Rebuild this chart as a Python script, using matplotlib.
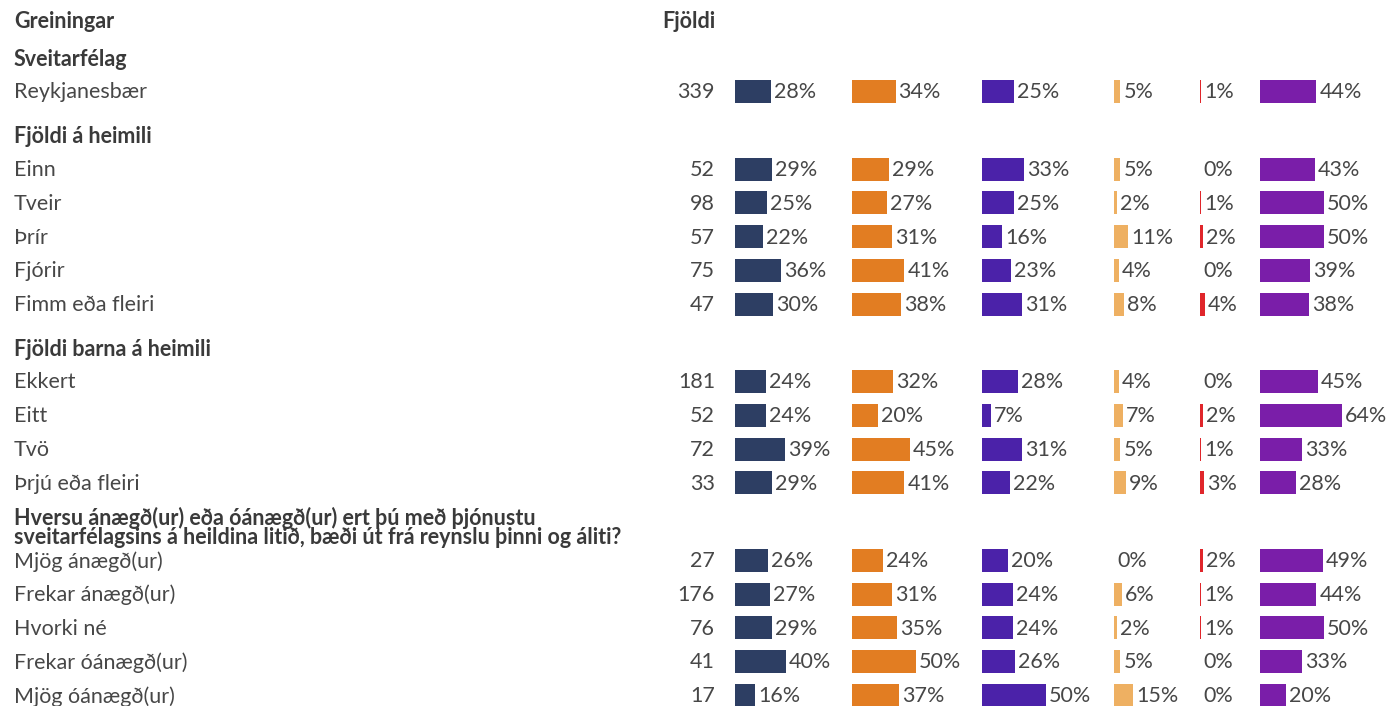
import matplotlib
matplotlib.use("Agg")
import matplotlib.pyplot as plt

# ---------------------------------------------------------------------------
# data
# ---------------------------------------------------------------------------
groups = [
    "Sveitarfélag",
    "Fjöldi á heimili",
    "Fjöldi barna á heimili",
    "Hversu ánægð(ur) eða óánægð(ur) ert þú með þjónustu\nsveitarfélagsins á heildina litið, bæði út frá reynslu þinni og áliti?",
]
group_rows = [
    ["Reykjanesbær"],
    ["Einn", "Tveir", "Þrír", "Fjórir", "Fimm eða fleiri"],
    ["Ekkert", "Eitt", "Tvö", "Þrjú eða fleiri"],
    ["Mjög ánægð(ur)", "Frekar ánægð(ur)", "Hvorki né", "Frekar óánægð(ur)", "Mjög óánægð(ur)"],
]
counts = [339, 52, 98, 57, 75, 47, 181, 52, 72, 33, 27, 176, 76, 41, 17]
col1 = [28, 29, 25, 22, 36, 30, 24, 24, 39, 29, 26, 27, 29, 40, 16]
col2 = [34, 29, 27, 31, 41, 38, 32, 20, 45, 41, 24, 31, 35, 50, 37]
col3 = [25, 33, 25, 16, 23, 31, 28, 7, 31, 22, 20, 24, 24, 26, 50]
col4 = [5, 5, 2, 11, 4, 8, 4, 7, 5, 9, 0, 6, 2, 5, 15]
col5 = [1, 0, 1, 2, 0, 4, 0, 2, 1, 3, 2, 1, 1, 0, 0]
col6 = [44, 43, 50, 50, 39, 38, 45, 64, 33, 28, 49, 44, 50, 33, 20]

columns = [col1, col2, col3, col4, col5, col6]
colors = ["#2d3e63", "#e27d22", "#4b22a9", "#eeb062", "#e0262b", "#7a1ea9"]
col_x = [735, 852, 982, 1114, 1200, 1260]
px_per_pct = 1.28

# ---------------------------------------------------------------------------
# figure
# ---------------------------------------------------------------------------
plt.rcParams["font.family"] = ["Lato", "DejaVu Sans"]
W, H = 1391, 706
fig = plt.figure(figsize=(W / 100, H / 100), dpi=100)
ax = fig.add_axes([0, 0, 1, 1])
ax.set_xlim(0, W)
ax.set_ylim(H, 0)
ax.axis("off")

txt = "#474747"
head = "#3a3a3a"
fs = 15.5
dy = 2  # small nudge so text sits level with the bars

ax.text(14, 19 + dy, "Greiningar", fontsize=fs, fontweight="bold", color=head, va="center")
ax.text(715, 19 + dy, "Fjöldi", fontsize=fs, fontweight="bold", color=head, va="center", ha="right")

row_step = 33.75
y_head = 57
i = 0
for g, rows in zip(groups, group_rows):
    ax.text(14, y_head + dy, g, fontsize=fs, fontweight="bold", color=head, va="center",
            linespacing=0.9)
    y = y_head + 33.5
    for r in rows:
        ax.text(14, y + dy, r, fontsize=fs, color=txt, va="center")
        ax.text(715, y + dy, str(counts[i]), fontsize=fs, color=txt, va="center", ha="right")
        for vals, col, x0 in zip(columns, colors, col_x):
            w = vals[i] * px_per_pct
            ax.barh(y + 1, w, left=x0, height=23, color=col, edgecolor="none")
            ax.text(x0 + w + 3, y + dy, f"{vals[i]}%", fontsize=fs, color=txt, va="center")
        i += 1
        y += row_step
    y_head = y - row_step + 44

fig.savefig("out.png", dpi=100)
